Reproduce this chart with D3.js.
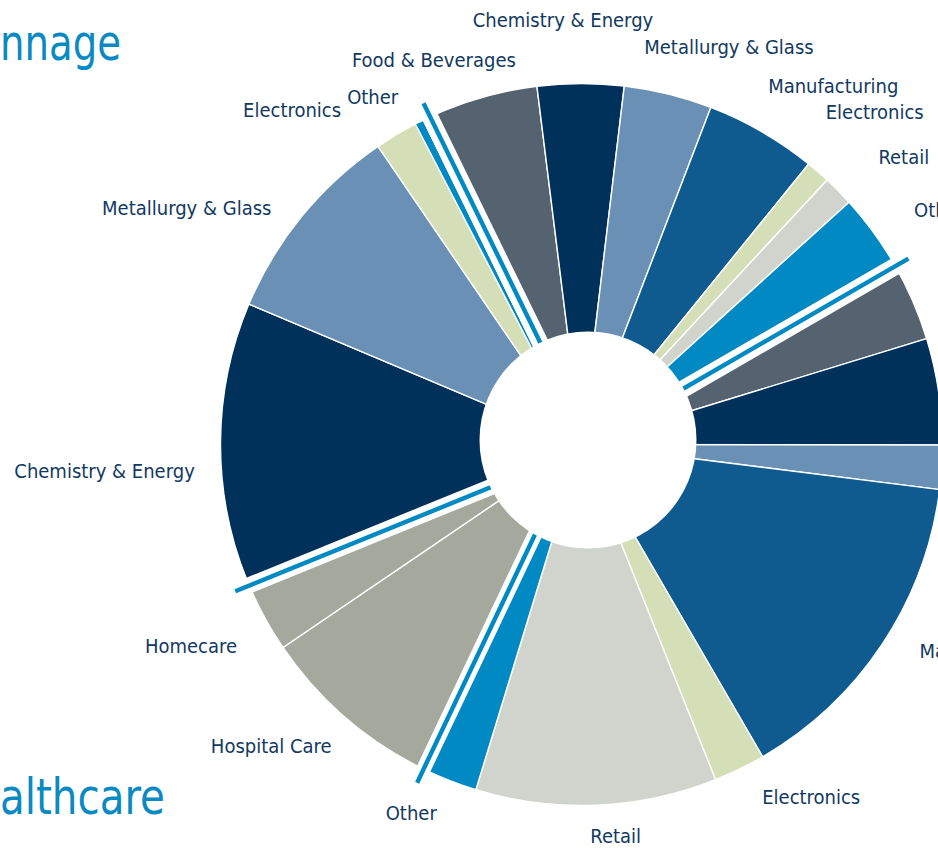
<!DOCTYPE html>
<html>
<head>
<meta charset="utf-8">
<script src="https://cdn.jsdelivr.net/npm/d3@7"></script>
<style>
  html, body { margin: 0; padding: 0; background: #ffffff; overflow: hidden; }
  svg { display: block; }
  text { font-family: "DejaVu Sans Condensed", "DejaVu Sans", sans-serif; font-stretch: condensed; }
</style>
</head>
<body>
<svg id="chart" width="938" height="848"></svg>
<script>
// Shares of the full circle (%), one array per segment group, clockwise.
const tonnageLabels = ["Chemistry & Energy", "Metallurgy & Glass", "Electronics", "Other"];
const tonnageValues = [12.51, 9.11, 1.92, 0.39];

const group2Labels = ["Food & Beverages", "Chemistry & Energy", "Metallurgy & Glass", "Manufacturing", "Electronics", "Retail", "Other"];
const group2Values = [5.25, 3.86, 3.94, 5.0, 1.08, 1.375, 3.375];

const group3Labels = ["Food & Beverages", "Chemistry & Energy", "Metallurgy & Glass", "Manufacturing", "Electronics", "Retail", "Other"];
const group3Values = [3.6, 4.76, 1.97, 14.64, 2.31, 10.78, 2.33];

const healthcareLabels = ["Hospital Care", "Homecare"];
const healthcareValues = [8.44, 3.35];

const groupTitles = ["Tonnage", null, null, "Healthcare"];

// Category colours
const categoryNames = ["Food & Beverages", "Chemistry & Energy", "Metallurgy & Glass", "Manufacturing",
                       "Electronics", "Retail", "Other", "Hospital Care", "Homecare"];
const categoryColors = ["#556270", "#00315a", "#6a90b6", "#0f5b8f",
                        "#d4deb7", "#d1d4cd", "#0089c3", "#a5a89c", "#a5a89c"];

// ---- layout -------------------------------------------------------------
const W = 938, H = 848;
const cx = 581.5, cy = 444.5;          // pie centre
const R = 361;                          // outer radius
const hole = { x: 588, y: 440, r: 108.5 };
const startDeg = 247.85;                // where the first group begins
// separator band before each group: [from, to] perpendicular offsets and blue rule offset (px)
const gapBands = [
  { from: -13.25, to: 2.95, rule: -5.4 },
  { from: -0.5,  to: 15.7, rule: 7.6 },
  { from: -5.9,  to: 11.5, rule: 2.6 },
  { from: -3.8,  to: 10.7, rule: 3.4 }
];
// label placement per slice: angular nudge (deg) from slice middle, radius (px)
const labelPlacement = [
  [-3.6, 477.7], [-8.4, 460], [-10.05, 442], [-4.3, 405.5],
  [-4.45, 412], [-2.35, 425], [6.45, 424], [5.1, 438], [0.45, 443.5], [2.9, 432], [2.9, 428],
  [0, 520], [0, 520], [0, 520], [-6.45, 452.8], [-7.15, 420.6], [-2.6, 393], [3.6, 405.8],
  [5.2, 432.8], [0.9, 439.4]
];

const groupData = [
  [tonnageLabels, tonnageValues],
  [group2Labels, group2Values],
  [group3Labels, group3Values],
  [healthcareLabels, healthcareValues]
];
const slices = [];
groupData.forEach(([labels, values], g) => {
  labels.forEach((name, i) => slices.push({ group: g, name, value: values[i] }));
});

const color = d3.scaleOrdinal().domain(categoryNames).range(categoryColors);
const rad = d => d * Math.PI / 180;
const deg = r => r * 180 / Math.PI;

const pie = d3.pie().sort(null).value(d => d.value)
  .startAngle(rad(startDeg)).endAngle(rad(startDeg) + 2 * Math.PI);
const arcs = pie(slices);
const arc = d3.arc().innerRadius(0).outerRadius(R);

const svg = d3.select("#chart");
const root = svg.append("g");

// slices
root.append("g").attr("transform", `translate(${cx},${cy})`)
  .selectAll("path").data(arcs).join("path")
  .attr("d", arc)
  .attr("fill", d => color(d.data.name))
  .attr("stroke", "#ffffff")
  .attr("stroke-width", 1.4)
  .attr("stroke-linejoin", "miter");

// group separators: white gap with a blue rule
const groupStarts = groupData.map((_, g) => arcs.find(a => a.data.group === g).startAngle);
const sep = root.append("g");
groupStarts.forEach((a, g) => {
  const b = gapBands[g];
  const s = sep.append("g").attr("transform", `translate(${cx},${cy}) rotate(${deg(a)})`);
  s.append("rect")
    .attr("x", b.from).attr("width", b.to - b.from)
    .attr("y", -(R + 3)).attr("height", R + 3)
    .attr("fill", "#ffffff");
  s.append("rect")
    .attr("x", b.rule - 2.2).attr("width", 4.4)
    .attr("y", -376).attr("height", 376 - 60)
    .attr("fill", "#0089c3");
});

// centre hole
root.append("circle")
  .attr("cx", hole.x).attr("cy", hole.y).attr("r", hole.r)
  .attr("fill", "#ffffff");

// slice labels
root.append("g").selectAll("text").data(arcs).join("text")
  .each(function (d, i) {
    const [nudge, r] = labelPlacement[i];
    const a = (d.startAngle + d.endAngle) / 2 + rad(nudge);
    d3.select(this)
      .attr("x", cx + r * Math.sin(a))
      .attr("y", cy - r * Math.cos(a));
  })
  .attr("text-anchor", "middle")
  .attr("dy", "0.35em")
  .attr("font-size", 20)
  .attr("fill", "#113961")
  .text(d => d.data.name);

// group titles (run off the left edge)
const titles = [
  { text: groupTitles[0], end: 121, baseline: 60, visibleFrom: 2 },
  { text: groupTitles[3], end: 165, baseline: 814, visibleFrom: 2 }
];
titles.forEach(t => {
  const g = root.append("g");
  const txt = g.append("text")
    .attr("text-anchor", "start")
    .attr("font-size", 50)
    .attr("fill", "#0a8ac3")
    .text(t.text);
  const node = txt.node();
  const full = node.getComputedTextLength();
  const hidden = node.getSubStringLength(0, t.visibleFrom);
  const visible = full - hidden;
  const sx = t.end / visible;
  g.attr("transform", `translate(${t.end - full * sx},${t.baseline}) scale(${sx},1)`);
});
</script>
</body>
</html>
